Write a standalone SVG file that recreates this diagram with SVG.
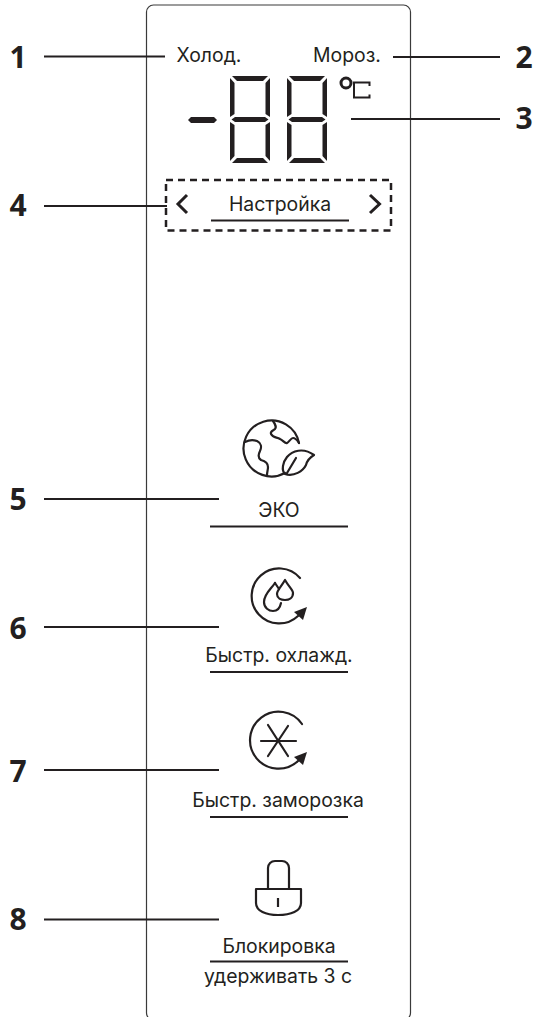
<svg xmlns="http://www.w3.org/2000/svg" width="533" height="1017" viewBox="0 0 533 1017">
<style>
.n{font-family:"Open Sans","Noto Sans",sans-serif;font-weight:700;font-size:30px;fill:#231f20;text-anchor:middle}
.t{font-family:"Inter","Roboto","Liberation Sans",sans-serif;font-size:19.400px;fill:#231f20;text-anchor:middle}
.l{stroke:#231f20;stroke-width:2.200;fill:none}
.u{stroke:#231f20;stroke-width:2.200;fill:none}
.i{stroke:#231f20;stroke-width:2.200;fill:none;stroke-linecap:round;stroke-linejoin:round}
.s{fill:#231f20;stroke:none}
.o{fill:none;stroke:#231f20}
</style>
<defs>
<g id="digit">
<path class="s" d="M2 0H38L33 5H7Z"/>
<path class="s" d="M0 2L4.500 7V38L0 41Z"/>
<path class="s" d="M40 2L35.500 7V38L40 41Z"/>
<path class="s" d="M5 41H35L38.500 43.500L35 46H5L1.500 43.500Z"/>
<path class="s" d="M0 46L4.500 49V80L0 85Z"/>
<path class="s" d="M40 46L35.500 49V80L40 85Z"/>
<path class="s" d="M7 82H33L38 87H2Z"/>
</g>
</defs>
<rect id="panel" x="146.500" y="5" width="264" height="1015" rx="7" fill="none" stroke="#3a3a3a" stroke-width="1.200"/>
<g id="connectors">
<path class="l" d="M44 56.500H165"/>
<path class="l" d="M393 57H500"/>
<path class="l" d="M351 119H500"/>
<path class="l" d="M44 206H167"/>
<path class="l" d="M44 499H219"/>
<path class="l" d="M44 627H219"/>
<path class="l" d="M44 770H219"/>
<path class="l" d="M44 919.500H219"/>
</g>
<g id="n1"><text class="n" x="18" y="68">1</text><text class="t" x="209" y="62">Холод.</text></g>
<g id="n2"><text class="n" x="524" y="68">2</text><text class="t" x="347" y="62">Мороз.</text></g>
<g id="n3">
<text class="n" x="524" y="129">3</text>
<path class="s" d="M191 117H214L217 120L214 123H191L188 120Z"/>
<use href="#digit" x="230" y="76"/>
<use href="#digit" x="287" y="76"/>
<circle class="o" cx="346" cy="83" r="5" stroke-width="3"/>
<path class="o" d="M369.500 86V82.500H354V97.500H369.500V94.500" stroke-width="2"/>
</g>
<g id="n4">
<text class="n" x="18" y="216">4</text>
<rect x="166" y="180" width="225" height="50.500" fill="none" stroke="#231f20" stroke-width="2.500" stroke-dasharray="7 5"/>
<path d="M187 195L178 204L187 213" fill="none" stroke="#231f20" stroke-width="3"/>
<path d="M370 195L379.500 204L370 213" fill="none" stroke="#231f20" stroke-width="3"/>
<text class="t" x="280" y="211">Настройка</text>
<path class="u" d="M211 220.500H349"/>
</g>
<g id="n5">
<text class="n" x="18" y="510">5</text>
<path class="i" d="M299 443A28 28 0 1 0 285 473"/>
<path class="i" d="M273 421C276 425 276 428 275 429C273 431 270 431 271 434C273 438 277 437 280 439C283 440 285 444 287 443C289 442 291 438 293 438C296 438 297 440 299 443"/>
<path class="i" d="M245 442C249 440 254 440 257 441C261 443 262 447 260 451C258 455 258 458 261 460C265 461 268 463 268 467C268 470 267 472 267 475"/>
<path class="i" d="M285 474C281 470 283 462 287 457C292 451 303 447 314 455C309 458 307 461 306 465C303 471 294 477 285 474ZM287 473L296 458"/>
<text class="t" x="279" y="517">ЭКО</text>
<path class="u" d="M210 526.500H348"/>
</g>
<g id="n6">
<text class="n" x="18" y="639">6</text>
<path class="i" d="M300 578A27.500 27.500 0 1 0 298 616"/>
<path class="s" d="M307 607L294 612L303 620Z"/>
<path class="i" d="M275 583C271 589 264 594 264 602C264 608 269 611 273 611C277 611 280 608 281 603"/>
<path class="i" d="M275 583L279 589"/>
<path class="i" d="M285 580C281 587 277 590 277 594C277 598 281 600 285 600C289 600 293 598 293 593C293 590 289 587 285 580Z"/>
<text class="t" x="279" y="662">Быстр. охлажд.</text>
<path class="u" d="M210 672H348"/>
</g>
<g id="n7">
<text class="n" x="18" y="782">7</text>
<path class="i" d="M302 724A28.500 28.500 0 1 0 298 761"/>
<path class="s" d="M307 752L294 757L303 765Z"/>
<path class="i" d="M261 741H296M268 725L288 756M288 726L268 756"/>
<text class="t" x="278" y="807">Быстр. заморозка</text>
<path class="u" d="M210 817H348"/>
</g>
<g id="n8">
<text class="n" x="18" y="930">8</text>
<path class="i" d="M268 888V868A7 7 0 0 1 275 861H282A7 7 0 0 1 289 868V888" stroke-width="2.400"/>
<path class="i" d="M256 889H301V903C301 911 291 915 278 915C266 915 256 911 256 903Z" stroke-width="2.400"/>
<path class="l" d="M278 898V907"/>
<text class="t" x="279" y="953">Блокировка</text>
<path class="u" d="M210 961.500H348"/>
<text class="t" x="278" y="983">удерживать 3 с</text>
</g>
</svg>
